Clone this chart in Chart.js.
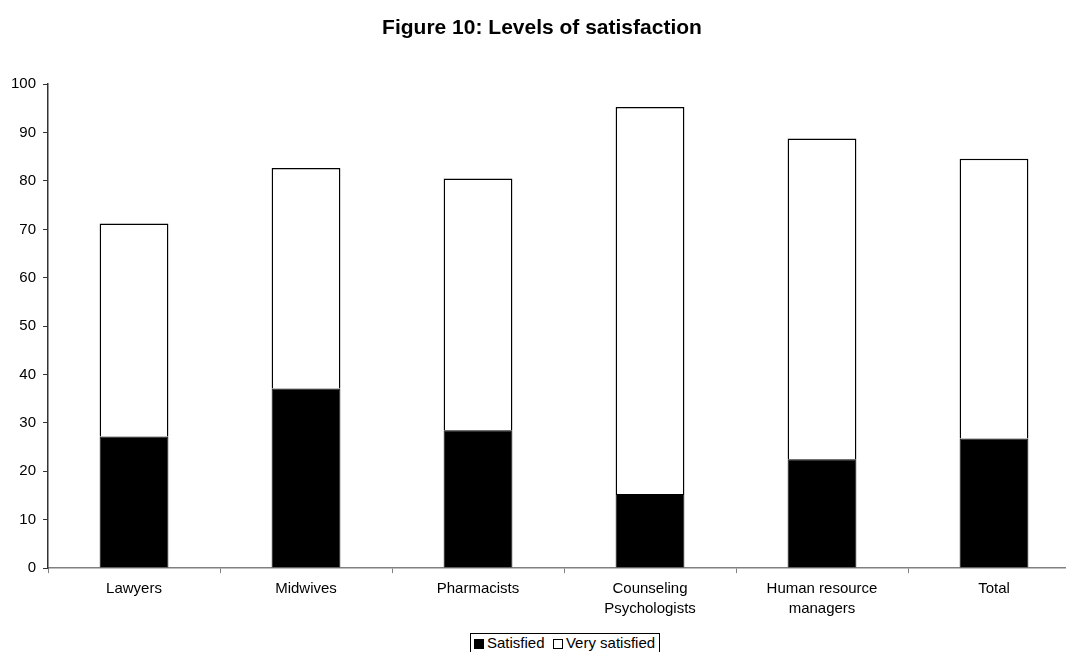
<!DOCTYPE html>
<html>
<head>
<meta charset="utf-8">
<script src="https://cdn.jsdelivr.net/npm/chart.js@4/dist/chart.umd.min.js"></script>
<style>
html, body { margin: 0; padding: 0; background: #fff; overflow: hidden; width: 1066px; height: 652px; }
#wrap { position: relative; width: 1096px; height: 652px; }
#legend { position: absolute; left: 470px; top: 633px; border: 1px solid #000; border-bottom: none; background: #fff;
  font-family: "Liberation Sans", Arial, sans-serif; font-size: 15px; color: #000; padding: 0 4px 6px 3px; white-space: nowrap; height: 20px; line-height: 18px; }
#legend span.sw { display: inline-block; width: 10px; height: 10px; box-sizing: border-box; border: 1px solid #000; margin-right: 3px; vertical-align: -1px; }
</style>
</head>
<body>
<div id="wrap">
<canvas id="c" width="1096" height="652" style="width:1096px;height:652px;"></canvas>
<div id="legend"><span class="sw" style="background:#000"></span>Satisfied&nbsp; <span class="sw" style="background:#fff"></span>Very satisfied</div>
</div>
<script>
const categories = ["Lawyers", "Midwives", "Pharmacists", ["Counseling", "Psychologists"], ["Human resource", "managers"], "Total"];
const satisfied = [27.2, 37.1, 28.5, 15.3, 22.5, 26.8];
const verySatisfied = [44.0, 45.6, 52.0, 80.0, 66.3, 57.8];
const yTicks = [0, 10, 20, 30, 40, 50, 60, 70, 80, 90, 100];
const titleText = "Figure 10: Levels of satisfaction";

const FONT = "'Liberation Sans', Arial, sans-serif";

new Chart(document.getElementById('c'), {
  type: 'bar',
  data: {
    labels: categories,
    datasets: [
      { label: 'Satisfied', data: satisfied, backgroundColor: '#000', borderColor: '#000', borderWidth: 1,
        barPercentage: 0.4, categoryPercentage: 1.0 },
      { label: 'Very satisfied', data: verySatisfied, backgroundColor: '#fff', borderColor: '#000', borderWidth: 1.5,
        borderSkipped: 'start', barPercentage: 0.4, categoryPercentage: 1.0 }
    ]
  },
  options: {
    responsive: false,
    animation: false,
    layout: { padding: { left: 4, right: 16, top: 0, bottom: 27 } },
    plugins: {
      legend: { display: false },
      tooltip: { enabled: false },
      title: { display: true, text: titleText, color: '#000',
        font: { family: FONT, size: 21, weight: 'bold' }, padding: { top: 16, bottom: 43 } }
    },
    scales: {
      x: {
        stacked: true,
        offset: true,
        grid: { display: true, drawOnChartArea: false, drawTicks: true, tickLength: 5, color: '#808080', offset: true },
        border: { display: true, color: '#808080', width: 1.5 },
        ticks: { color: '#000', font: { family: FONT, size: 15, lineHeight: 1.33 }, padding: 6, maxRotation: 0, autoSkip: false }
      },
      y: {
        stacked: true,
        min: 0, max: 100,
        afterBuildTicks: (s) => { s.ticks = yTicks.map(v => ({ value: v })); },
        grid: { display: true, drawOnChartArea: false, drawTicks: true, tickLength: 5, color: '#333' },
        border: { display: true, color: '#333', width: 1.5 },
        ticks: { color: '#000', font: { family: FONT, size: 15 }, padding: 7 }
      }
    }
  }
});
</script>
</body>
</html>
